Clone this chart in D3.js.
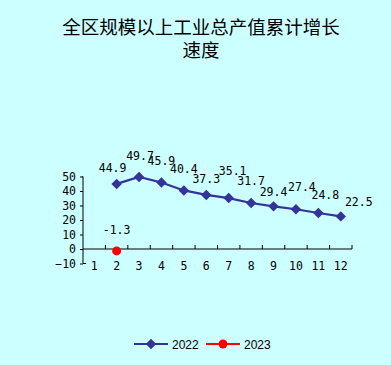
<!DOCTYPE html>
<html><head><meta charset="utf-8">
<script src="https://cdn.jsdelivr.net/npm/d3@7/dist/d3.min.js"></script>
<style>html,body{margin:0;padding:0;background:#CCFFFF;}svg{display:block;}</style>
</head><body><svg id="c" width="391" height="365"></svg>
<script>
const titleLines = ["全区规模以上工业总产值累计增长", "速度"];
const months = ["1","2","3","4","5","6","7","8","9","10","11","12"];
const series2022Months = ["2","3","4","5","6","7","8","9","10","11","12"];
const series2022 = [44.9, 49.7, 45.9, 40.4, 37.3, 35.1, 31.7, 29.4, 27.4, 24.8, 22.5];
const series2023Months = ["2"];
const series2023 = [-1.3];
const yTicks = [-10, 0, 10, 20, 30, 40, 50];
const seriesNames = ["2022", "2023"];
// label offsets (dx, dy) relative to each point, as placed in the original
const label2022Offsets = [[-4,-12],[1,-17],[0,-17],[0,-17],[0,-12],[4,-23],[0,-18],[0,-10],[6,-18],[7,-14],[18,-10]];
const label2023Offsets = [[0,-17]];

const svg = d3.select("#c");
const W = 391, H = 365;
const x = d3.scaleBand().domain(months).range([83, 352]);
const y = d3.scaleLinear().domain([-10, 50]).range([263.5, 176.5]);
const cx = m => x(m) + x.bandwidth()/2;
const blue = "#333399", red = "#FF0000";
const numFont = "'DejaVu Sans Mono', monospace";

// title
svg.append("text").attr("x", 201).attr("y", 0)
  .attr("text-anchor", "middle")
  .style("font-family", "'Noto Sans CJK SC'").style("font-size", "18.5px").attr("fill", "#000")
  .selectAll("tspan").data(titleLines).join("tspan")
  .attr("x", 201).attr("y", (d,i) => 34 + i*23).text(d => d);

// y axis
const yAxis = d3.axisLeft(y).tickValues(yTicks).tickSize(3).tickPadding(4);
const gy = svg.append("g").attr("transform", "translate(83,0)").call(yAxis);
gy.select(".domain").attr("d", `M-0.5,${y(50)}H0V${y(-10)}H3`).attr("stroke", "#000");
gy.selectAll(".tick line").attr("stroke", "#000");
gy.selectAll(".tick text").style("font-family", numFont).style("font-size", "11.5px").attr("fill", "#000");

// x axis line at y=0 with upward ticks between categories
const gx = svg.append("g");
gx.append("line").attr("x1", 83).attr("x2", 352).attr("y1", y(0)).attr("y2", y(0)).attr("stroke", "#000");
gx.selectAll("line.t").data(months.slice(1).concat(["end"])).join("line").attr("class","t")
  .attr("x1", d => d === "end" ? 352 : x(d)).attr("x2", d => d === "end" ? 352 : x(d))
  .attr("y1", y(0)).attr("y2", y(0) - 4).attr("stroke", "#000");
gx.selectAll("text").data(months).join("text")
  .attr("x", d => cx(d)).attr("y", 270).attr("text-anchor", "middle")
  .style("font-family", numFont).style("font-size", "11.5px").attr("fill", "#000").text(d => d);

// 2022 line
const pts22 = series2022.map((v,i) => ({m: series2022Months[i], v}));
svg.append("path").datum(pts22)
  .attr("d", d3.line().x(d => cx(d.m)).y(d => y(d.v)))
  .attr("fill", "none").attr("stroke", blue).attr("stroke-width", 2.2);
svg.selectAll("path.dia").data(pts22).join("path").attr("class","dia")
  .attr("d", d3.symbol(d3.symbolDiamond2, 70))
  .attr("transform", d => `translate(${cx(d.m)},${y(d.v)})`).attr("fill", blue);

svg.selectAll("text.l22").data(pts22).join("text").attr("class","l22")
  .attr("x", (d,i) => cx(d.m) + label2022Offsets[i][0])
  .attr("y", (d,i) => y(d.v) + label2022Offsets[i][1])
  .attr("text-anchor", "middle")
  .style("font-family", numFont).style("font-size", "11.5px").attr("fill", "#000")
  .text(d => d.v.toFixed(1));

// 2023
const pts23 = series2023.map((v,i) => ({m: series2023Months[i], v}));
svg.selectAll("circle.p23").data(pts23).join("circle").attr("class","p23")
  .attr("cx", d => cx(d.m)).attr("cy", d => y(d.v)).attr("r", 4.5).attr("fill", red);
svg.selectAll("text.l23").data(pts23).join("text").attr("class","l23")
  .attr("x", (d,i) => cx(d.m) + label2023Offsets[i][0])
  .attr("y", (d,i) => y(d.v) + label2023Offsets[i][1])
  .attr("text-anchor", "middle")
  .style("font-family", numFont).style("font-size", "11.5px").attr("fill", "#000")
  .text(d => d.v.toFixed(1));

// legend
const leg = svg.append("g");
const legX = [134, 206];
seriesNames.forEach((name, i) => {
  const g = leg.append("g").attr("transform", `translate(${legX[i]},344)`);
  g.append("line").attr("x1", 0).attr("x2", 34).attr("stroke", i ? red : blue).attr("stroke-width", 2.2);
  if (i === 0) g.append("path").attr("d", d3.symbol(d3.symbolDiamond2, 70)).attr("transform", "translate(17,0)").attr("fill", blue);
  else g.append("circle").attr("cx", 17).attr("r", 4.5).attr("fill", red);
  g.append("text").attr("x", 38).attr("y", 4.5)
    .style("font-family", "'Liberation Sans', Arial, sans-serif").style("font-size", "12px").attr("fill", "#000").text(name);
});
</script></body></html>
